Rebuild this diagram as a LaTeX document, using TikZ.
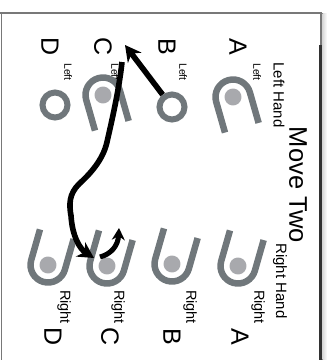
\documentclass[tikz,border=0pt]{standalone}
\usepackage{fontspec}
\setmainfont{Liberation Sans}
\usetikzlibrary{arrows.meta}
\definecolor{ushape}{RGB}{112,119,123}
\definecolor{udot}{RGB}{168,169,173}
\definecolor{framedark}{RGB}{50,50,50}
\definecolor{framegray}{RGB}{120,120,120}
\tikzset{
  handU/.pic={
    \fill[udot] (0,0) circle (8.5);
    \draw[ushape, line width=6.5pt] (-17.5,-32) -- (-17.5,0) arc[start angle=180,end angle=0,radius=17.5] -- (17.5,-32);
  },
  ring/.style={circle, draw=ushape, line width=6pt, minimum size=25pt, inner sep=0},
  lbl/.style={rotate=-90, inner sep=0, text=black},
  bigletter/.style={lbl, font=\fontsize{25}{25}\selectfont},
  smallleft/.style={lbl, font=\fontsize{10.5}{10.5}\selectfont},
  smallright/.style={lbl, font=\fontsize{14.5}{14.5}\selectfont},
  handlbl/.style={lbl, font=\fontsize{15}{15}\selectfont},
  ropeline/.style={line width=5.6pt, draw=black},
  arr/.style={ropeline, -{Stealth[length=16pt,width=17pt]}},
  smallarr/.style={line width=5pt, draw=black, -{Stealth[length=12pt,width=13pt]}},
}
\begin{document}
\begin{tikzpicture}[x=1pt,y=-1pt]
\useasboundingbox (0,0) rectangle (327,360);
% frame
\fill[left color=gray!30, right color=white] (322.5,13) rectangle (327,360);
\draw[framegray, line width=1pt] (1,13) -- (1,360);
\draw[framegray, line width=1.8pt] (0,13) -- (321,13) -- (321,45);
\draw[framedark, line width=3pt] (321,45) -- (321,360);
% titles
\node[lbl, font=\fontsize{25.5}{25.5}\selectfont] (title) at (298,185) {Move Two};
\node[handlbl] (lh) at (279,95) {Left Hand};
\node[handlbl] (rh) at (280,281) {Right Hand};
% top letters
\node[bigletter] (tA) at (238,47) {A};
\node[bigletter] (tB) at (167,47) {B};
\node[bigletter] (tC) at (103,47) {C};
\node[bigletter] (tD) at (50,47) {D};
\node[smallleft] (tlA) at (257,72) {Left};
\node[smallleft] (tlB) at (183,72) {Left};
\node[smallleft] (tlC) at (115,72) {Left};
\node[smallleft] (tlD) at (68,72) {Left};
% left hand shapes
\pic[rotate=196] (lA) at (233,97) {handU};
\pic[rotate=196] (lC) at (103,95) {handU};
\node[ring] (lB) at (172,107) {};
\node[ring] (lD) at (55,105) {};
% right hand shapes
\pic[rotate=-16] (rA) at (238,266) {handU};
\pic[rotate=-16] (rB) at (172,264) {handU};
\pic[rotate=-16] (rC) at (107,266) {handU};
\pic[rotate=-16] (rD) at (48,265) {handU};
% bottom labels
\node[smallright] (brA) at (258,307) {Right};
\node[smallright] (brB) at (190,307) {Right};
\node[smallright] (brC) at (118,307) {Right};
\node[smallright] (brD) at (64,307) {Right};
\node[bigletter] (bA) at (240,337) {A};
\node[bigletter] (bB) at (172,337) {B};
\node[bigletter] (bC) at (110,337) {C};
\node[bigletter] (bD) at (53,337) {D};
% arrows
\coordinate (tipC) at (125,45);
\coordinate (ropeTop) at (122,62);
\coordinate (ropeEnd) at (94,258);
\coordinate (twistStart) at (100,257);
\coordinate (twistEnd) at (119,228);
\draw[ropeline] (ropeTop) .. controls (119,90) and (112,120) .. (107,142)
  .. controls (103,160) and (90,174) .. (79,184)
  .. controls (69,194) and (69,204) .. (71,216);
\draw[arr] (71,215) .. controls (72,236) and (80,249) .. (ropeEnd);
\draw[arr] (lB) -- (tipC);
\draw[smallarr] (twistStart) .. controls (111,254) and (118,246) .. (twistEnd);
\end{tikzpicture}
\end{document}
